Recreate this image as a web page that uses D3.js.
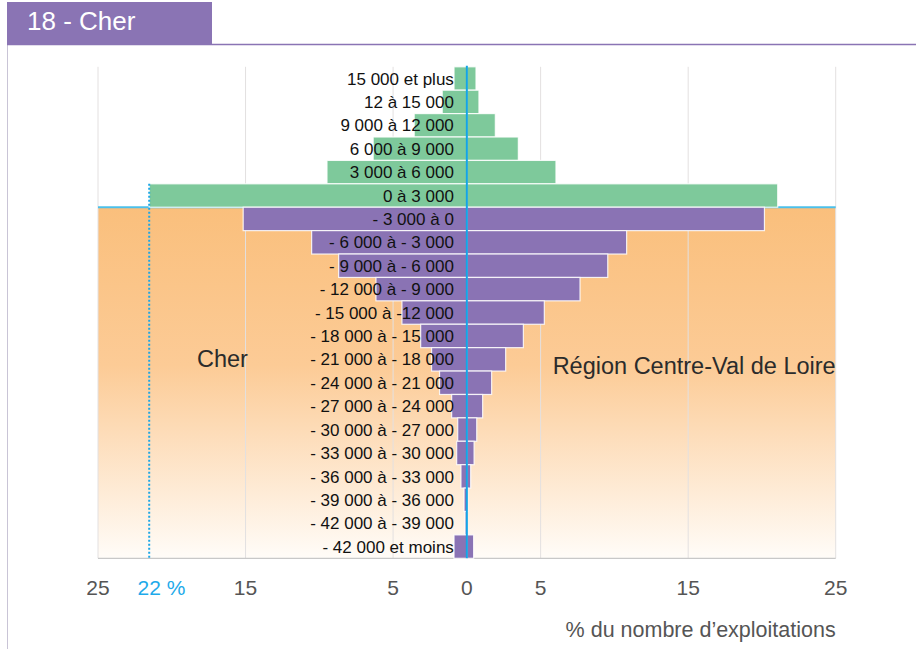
<!DOCTYPE html>
<html lang="fr">
<head>
<meta charset="utf-8">
<script src="https://cdn.jsdelivr.net/npm/d3@7"></script>
<style>
  html, body { margin: 0; padding: 0; background: #fff; }
  svg { display: block; font-family: "Liberation Sans", Arial, Helvetica, sans-serif; }
</style>
</head>
<body>
<svg id="chart" width="916" height="649"></svg>
<script>
// Tranches de résultat (euros), du haut vers le bas
const categories = [
  "15 000 et plus", "12 à 15 000", "9 000 à 12 000", "6 000 à 9 000",
  "3 000 à 6 000", "0 à 3 000", "- 3 000 à 0", "- 6 000 à - 3 000",
  "- 9 000 à - 6 000", "- 12 000 à - 9 000", "- 15 000 à -12 000",
  "- 18 000 à - 15 000", "- 21 000 à - 18 000", "- 24 000 à - 21 000",
  "- 27 000 à - 24 000", "- 30 000 à - 27 000", "- 33 000 à - 30 000",
  "- 36 000 à - 33 000", "- 39 000 à - 36 000", "- 42 000 à - 39 000",
  "- 42 000 et moins"
];
// % du nombre d'exploitations
const cherValues = [0.87, 1.67, 3.57, 6.35, 9.48, 21.53, 15.16, 10.52, 8.69, 6.16, 4.4,
  3.13, 2.39, 1.85, 1.03, 0.62, 0.69, 0.4, 0.19, 0.12, 0.87];
const regionValues = [0.62, 0.82, 1.93, 3.49, 6.04, 21.07, 20.17, 10.83, 9.55, 7.67, 5.25,
  3.83, 2.63, 1.68, 1.07, 0.67, 0.49, 0.26, 0.06, 0.02, 0.46];
const positiveCount = 6; // tranches de résultat positif
const tickValues = [-25, -15, -5, 0, 5, 15, 25];
const title = "18 - Cher";
const leftName = "Cher";
const rightName = "Région Centre-Val de Loire";
const axisTitle = "% du nombre d’exploitations";

const svg = d3.select("#chart");
const x = d3.scaleLinear().domain([-25, 25]).range([98, 835.7]);
const y = d3.scaleBand().domain(categories).range([66.8, 558.3]).padding(0);
const yTop = y.range()[0], yBottom = y.range()[1];

// Cadre et bandeau du titre
svg.append("line").attr("x1", 7.5).attr("x2", 7.5).attr("y1", 44).attr("y2", 649)
  .attr("stroke", "#c9c4d6").attr("stroke-width", 1);
svg.append("line").attr("x1", 7).attr("x2", 916).attr("y1", 44.5).attr("y2", 44.5)
  .attr("stroke", "#8a74b4").attr("stroke-width", 1.5);
svg.append("rect").attr("x", 7).attr("y", 2).attr("width", 205).attr("height", 42)
  .attr("fill", "#8a74b4");
svg.append("text").attr("x", 27).attr("y", 30).attr("fill", "#fff")
  .attr("font-size", 26).text(title);

// Fond dégradé sous la zone des résultats négatifs
const defs = svg.append("defs");
const grad = defs.append("linearGradient").attr("id", "negBg")
  .attr("x1", 0).attr("x2", 0).attr("y1", 0).attr("y2", 1);
grad.append("stop").attr("offset", "0%").attr("stop-color", "#fabf7c");
grad.append("stop").attr("offset", "45%").attr("stop-color", "#fccb96");
grad.append("stop").attr("offset", "100%").attr("stop-color", "#fffcf8");

const splitY = y(categories[positiveCount]);
svg.append("rect")
  .attr("x", x(-25)).attr("y", splitY)
  .attr("width", x(25) - x(-25)).attr("height", yBottom - splitY)
  .attr("fill", "url(#negBg)");

// Grille verticale
svg.append("g").selectAll("line")
  .data(tickValues.filter(d => d !== 0))
  .join("line")
  .attr("x1", d => x(d)).attr("x2", d => x(d))
  .attr("y1", yTop).attr("y2", yBottom)
  .attr("stroke", "#e3e0e0").attr("stroke-width", 1);

// Axe du bas
svg.append("line").attr("x1", x(-25)).attr("x2", x(25))
  .attr("y1", yBottom).attr("y2", yBottom)
  .attr("stroke", "#c8c8c8").attr("stroke-width", 1.2);

// Séparation résultats positifs / négatifs
svg.append("line").attr("x1", x(-25)).attr("x2", x(25))
  .attr("y1", splitY).attr("y2", splitY)
  .attr("stroke", "#4cc0ea").attr("stroke-width", 2);

const colorFor = i => i < positiveCount ? "#7ec99b" : "#8a73b4";

// Barres du département (vers la gauche)
svg.append("g").selectAll("rect")
  .data(cherValues)
  .join("rect")
  .attr("x", d => x(-d)).attr("y", (d, i) => y(categories[i]))
  .attr("width", d => x(0) - x(-d)).attr("height", y.bandwidth())
  .attr("fill", (d, i) => colorFor(i))
  .attr("stroke", "#ffffff").attr("stroke-opacity", 0.85).attr("stroke-width", 1.2);

// Barres de la région (vers la droite)
svg.append("g").selectAll("rect")
  .data(regionValues)
  .join("rect")
  .attr("x", x(0)).attr("y", (d, i) => y(categories[i]))
  .attr("width", d => x(d) - x(0)).attr("height", y.bandwidth())
  .attr("fill", (d, i) => colorFor(i))
  .attr("stroke", "#ffffff").attr("stroke-opacity", 0.85).attr("stroke-width", 1.2);

// Ligne du zéro
svg.append("line").attr("x1", x(0)).attr("x2", x(0))
  .attr("y1", yTop - 1).attr("y2", yBottom)
  .attr("stroke", "#14a4e6").attr("stroke-width", 2);

// Libellés des tranches
svg.append("g").selectAll("text")
  .data(categories)
  .join("text")
  .attr("x", x(0) - 13)
  .attr("y", d => y(d) + y.bandwidth() / 2)
  .attr("dy", "0.36em")
  .attr("text-anchor", "end")
  .attr("font-size", 17)
  .attr("fill", "#111")
  .text(d => d);

// Repère de la tranche la plus fréquente du département
const maxIdx = d3.maxIndex(cherValues);
const maxVal = cherValues[maxIdx];
svg.append("line")
  .attr("x1", x(-maxVal)).attr("x2", x(-maxVal))
  .attr("y1", y(categories[maxIdx])).attr("y2", yBottom)
  .attr("stroke", "#1ea7e6").attr("stroke-width", 2)
  .attr("stroke-dasharray", "2,2");

// Graduations
const tickY = 595;
svg.append("g").selectAll("text")
  .data(tickValues)
  .join("text")
  .attr("x", d => x(d)).attr("y", tickY)
  .attr("text-anchor", "middle")
  .attr("font-size", 21).attr("fill", "#555")
  .text(d => Math.abs(d));

const maxLabel = svg.append("text")
  .attr("y", tickY).attr("font-size", 21).attr("fill", "#1eaaea");
maxLabel.append("tspan").attr("class", "num").text(d3.format(".0f")(maxVal));
maxLabel.append("tspan").text(" %");
const numW = maxLabel.select(".num").node().getComputedTextLength();
maxLabel.attr("x", x(-maxVal) - numW / 2);

// Noms des séries
svg.append("text").attr("x", 197).attr("y", 367)
  .attr("font-size", 23.5).attr("fill", "#2b2b2b").text(leftName);
svg.append("text").attr("x", x(25)).attr("y", 374)
  .attr("text-anchor", "end")
  .attr("font-size", 23.5).attr("fill", "#2b2b2b").text(rightName);

// Titre de l'axe
svg.append("text").attr("x", x(25)).attr("y", 637)
  .attr("text-anchor", "end")
  .attr("font-size", 21.5).attr("fill", "#555").text(axisTitle);
</script>
</body>
</html>
